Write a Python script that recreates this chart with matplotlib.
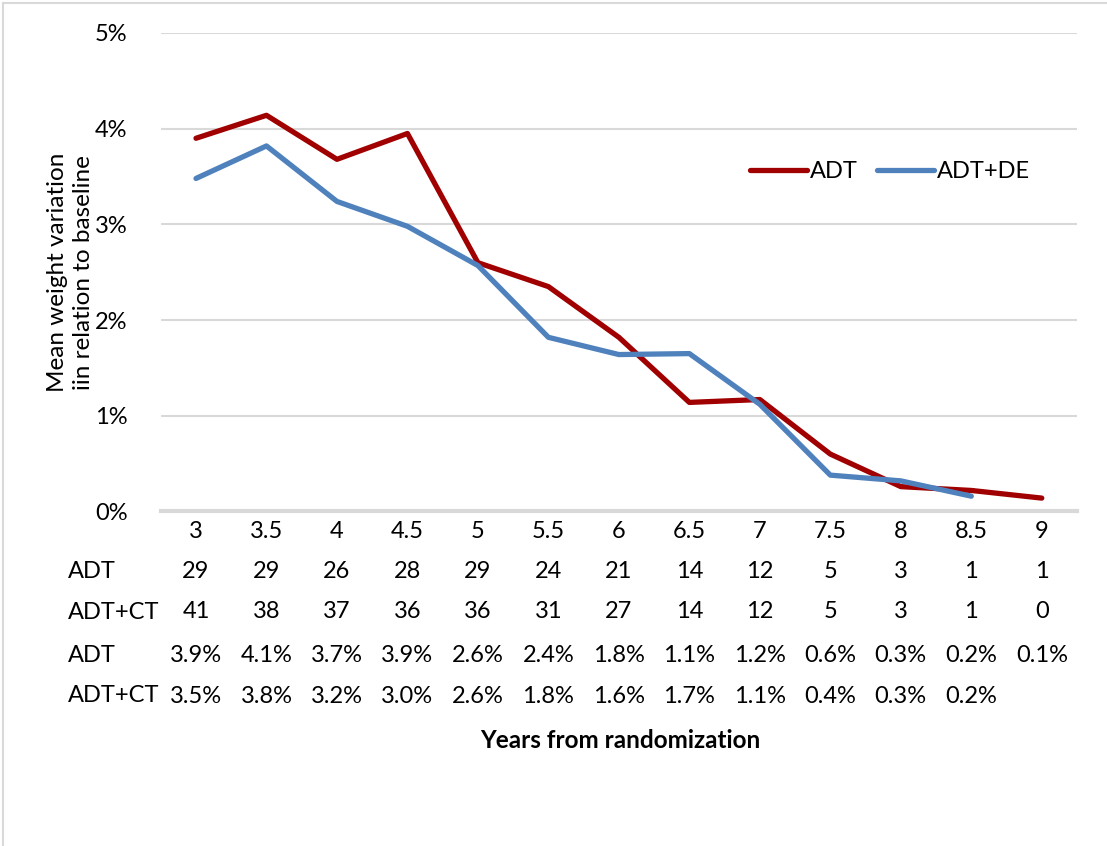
import matplotlib.pyplot as plt
from matplotlib.lines import Line2D
from matplotlib.ticker import PercentFormatter

plt.rcParams['font.family'] = ['Lato', 'DejaVu Sans']

years = ['3', '3.5', '4', '4.5', '5', '5.5', '6', '6.5', '7', '7.5', '8', '8.5', '9']
adt = [3.90, 4.14, 3.68, 3.95, 2.60, 2.35, 1.82, 1.14, 1.17, 0.60, 0.26, 0.22, 0.14]
adt_de = [3.48, 3.82, 3.24, 2.98, 2.57, 1.82, 1.64, 1.65, 1.12, 0.38, 0.32, 0.16, None]

n_adt = ['29', '29', '26', '28', '29', '24', '21', '14', '12', '5', '3', '1', '1']
n_adt_ct = ['41', '38', '37', '36', '36', '31', '27', '14', '12', '5', '3', '1', '0']
pct_adt = ['3.9%', '4.1%', '3.7%', '3.9%', '2.6%', '2.4%', '1.8%', '1.1%', '1.2%',
           '0.6%', '0.3%', '0.2%', '0.1%']
pct_adt_ct = ['3.5%', '3.8%', '3.2%', '3.0%', '2.6%', '1.8%', '1.6%', '1.7%', '1.1%',
              '0.4%', '0.3%', '0.2%', '']

red = '#A00000'
blue = '#4F81BD'
grid = '#D9D9D9'
fs = 17

W, H = 1107, 846
fig = plt.figure(figsize=(W / 100, H / 100), dpi=100)
ax_l, ax_r, ax_t, ax_b = 160.75, 1077, 33, 511.5
ax = fig.add_axes([ax_l / W, 1 - ax_b / H, (ax_r - ax_l) / W, (ax_b - ax_t) / H])

x = list(range(len(years)))
ax.plot(x, adt, color=red, lw=3.8, label='ADT', solid_capstyle='round', solid_joinstyle='round')
xs = [i for i, v in zip(x, adt_de) if v is not None]
ys = [v for v in adt_de if v is not None]
ax.plot(xs, ys, color=blue, lw=3.8, label='ADT+DE', solid_capstyle='round', solid_joinstyle='round')

ax.set_xlim(-0.5, len(years) - 0.5)
ax.set_ylim(0, 5)
ax.set_yticks([0, 1, 2, 3, 4, 5])
ax.yaxis.set_major_formatter(PercentFormatter(decimals=0))
ax.grid(axis='y', color=grid, lw=1.5)
ax.set_axisbelow(True)
for s in ['top', 'right', 'left']:
    ax.spines[s].set_visible(False)
ax.spines['bottom'].set_color(grid)
ax.spines['bottom'].set_linewidth(3)
ax.tick_params(axis='y', length=0, labelsize=fs, pad=24)
ax.set_xticks(x)
ax.set_xticklabels(years)
ax.tick_params(axis='x', length=0, labelsize=fs, pad=7)

ax.set_ylabel('Mean weight variation\niin relation to baseline', fontsize=fs + 0.5,
              linespacing=1.3)
ax.yaxis.set_label_coords(-67 / (ax_r - ax_l), 0.5)

# data table under the axis
rows = [('ADT', n_adt, 572), ('ADT+CT', n_adt_ct, 612),
        ('ADT', pct_adt, 655), ('ADT+CT', pct_adt_ct, 696)]
for label, vals, ypix in rows:
    fig.text(68 / W, 1 - ypix / H, label, fontsize=fs, ha='left', va='center')
    ya = (ax_b - ypix) / (ax_b - ax_t)
    for i, v in enumerate(vals):
        ax.text(i, ya, v, transform=ax.get_xaxis_transform(), fontsize=fs,
                ha='center', va='center', clip_on=False)

fig.text(620 / W, 1 - 740 / H, 'Years from randomization', fontsize=fs + 0.5,
         fontweight='bold', ha='center', va='center')

ax.legend(loc='center', bbox_to_anchor=(890 / W, 1 - 172 / H), bbox_transform=fig.transFigure,
          ncol=2, frameon=False, fontsize=fs, handlelength=2.4, handletextpad=0.1,
          columnspacing=0.85)

# light frame of the chart area
fig.add_artist(Line2D([3 / W, 3 / W], [0, 1 - 3 / H], transform=fig.transFigure,
                      color=grid, lw=1.5))
fig.add_artist(Line2D([3 / W, 1], [1 - 3 / H, 1 - 3 / H], transform=fig.transFigure,
                      color=grid, lw=1.5))

fig.savefig('out.png', dpi=100)
